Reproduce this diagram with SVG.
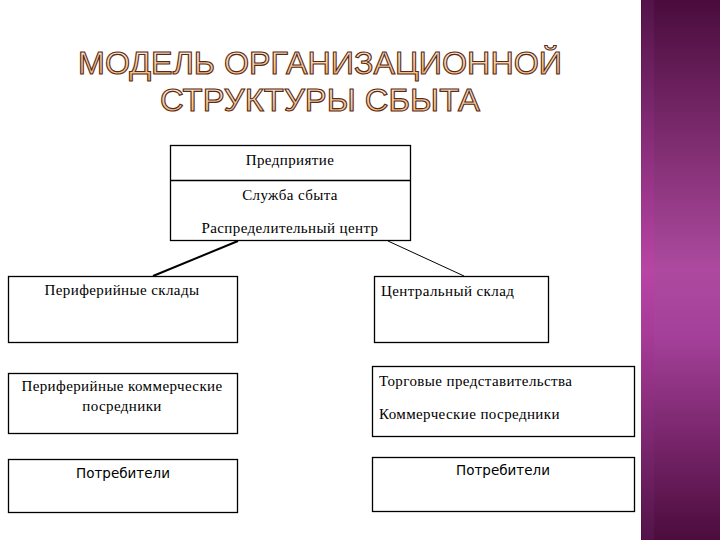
<svg xmlns="http://www.w3.org/2000/svg" width="720" height="540" viewBox="0 0 720 540">
<defs>
<linearGradient id="panel" x1="0" y1="0" x2="0" y2="1">
<stop offset="0" stop-color="#4a0c3c"/>
<stop offset="0.5" stop-color="#ad4a9f"/>
<stop offset="0.62" stop-color="#a5409a"/>
<stop offset="1" stop-color="#4c0c3d"/>
</linearGradient>
<linearGradient id="stripe" x1="0" y1="0" x2="0" y2="1">
<stop offset="0" stop-color="#5a1a55" stop-opacity="0.5"/>
<stop offset="0.5" stop-color="#c040a8" stop-opacity="0.6"/>
<stop offset="1" stop-color="#5a1a55" stop-opacity="0.5"/>
</linearGradient>
<linearGradient id="title" x1="0" y1="0" x2="0" y2="1">
<stop offset="0" stop-color="#fff3e3"/>
<stop offset="1" stop-color="#f0b070"/>
</linearGradient>
<style>
.box{fill:#fff;stroke:#000;stroke-width:1.3}
.t{font-family:"Liberation Serif","Times New Roman",serif;font-size:15px;letter-spacing:0.4px;fill:#000}
.s{font-family:"DejaVu Sans","Liberation Sans",sans-serif;font-size:13.5px;fill:#000}
.h{font-family:"Liberation Sans",Arial,sans-serif;font-size:32px;font-weight:400;fill:url(#title);stroke:#5a2a12;stroke-width:1.1;text-anchor:middle}
.c{text-anchor:middle}
</style>
</defs>
<rect width="720" height="540" fill="#fff"/>
<rect x="641" y="0" width="79" height="540" fill="url(#panel)"/>
<rect x="642" y="0" width="12" height="540" fill="url(#stripe)"/>
<g id="title-text">
<text class="h" x="320" y="74" textLength="484" lengthAdjust="spacingAndGlyphs">МОДЕЛЬ ОРГАНИЗАЦИОННОЙ</text>
<text class="h" x="320" y="111" textLength="320" lengthAdjust="spacingAndGlyphs">СТРУКТУРЫ СБЫТА</text>
</g>
<g id="connectors" stroke="#000" fill="none">
<line x1="238" y1="241" x2="153" y2="276" stroke-width="2"/>
<line x1="388" y1="241" x2="464" y2="276" stroke-width="1"/>
</g>
<g id="top">
<rect class="box" x="170.5" y="145.5" width="240" height="95"/>
<line x1="170.5" y1="180.5" x2="410.5" y2="180.5" stroke="#000" stroke-width="1.3"/>
<text class="t c" x="290" y="165">Предприятие</text>
<text class="t c" x="290" y="200">Служба сбыта</text>
<text class="t c" x="290" y="233">Распределительный центр</text>
</g>
<g id="periph-sklady">
<rect class="box" x="8.5" y="276.5" width="229" height="66"/>
<text class="t c" x="122" y="295">Периферийные склады</text>
</g>
<g id="central-sklad">
<rect class="box" x="374.5" y="276.5" width="174" height="66"/>
<text class="t" x="381" y="296">Центральный склад</text>
</g>
<g id="periph-posredniki">
<rect class="box" x="8.5" y="373.5" width="229" height="60"/>
<text class="t c" x="122" y="391">Периферийные коммерческие</text>
<text class="t c" x="122" y="411">посредники</text>
</g>
<g id="torg">
<rect class="box" x="372.5" y="366.5" width="262" height="70"/>
<text class="t" x="379" y="386">Торговые представительства</text>
<text class="t" x="379" y="419">Коммерческие посредники</text>
</g>
<g id="potr-left">
<rect class="box" x="8.5" y="459.5" width="229" height="53"/>
<text class="s c" x="123" y="478">Потребители</text>
</g>
<g id="potr-right">
<rect class="box" x="372.5" y="457.5" width="262" height="54"/>
<text class="s c" x="503" y="475">Потребители</text>
</g>
</svg>
